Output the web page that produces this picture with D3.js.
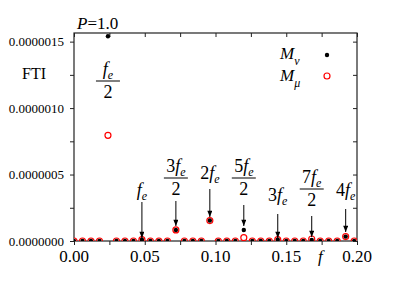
<!DOCTYPE html>
<html>
<head>
<meta charset="utf-8">
<script src="https://cdn.jsdelivr.net/npm/d3@7"></script>
<style>
  body { margin: 0; background: #fff; }
  text { font-family: "Liberation Serif", "Times New Roman", serif; fill: #000; }
</style>
</head>
<body>
<script>
var width = 415, height = 290;
var margin = {top: 33, right: 58, bottom: 49, left: 74}; // plot box 74..357, 33..241

// frequencies of the spectrum points
var freq = [0.000, 0.006, 0.012, 0.018, 0.024, 0.030, 0.036, 0.042, 0.048, 0.054,
            0.060, 0.066, 0.072, 0.078, 0.084, 0.090, 0.096, 0.102, 0.108, 0.114,
            0.120, 0.126, 0.132, 0.138, 0.144, 0.150, 0.156, 0.162, 0.168, 0.174,
            0.180, 0.186, 0.192, 0.198];
// FTI values (x 1e-6)
var mNu = [0, 0, 0, 0, 1.54, 0, 0, 0, 0.010, 0,
           0, 0, 0.083, 0, 0, 0, 0.154, 0, 0, 0,
           0.083, 0, 0, 0, 0.010, 0, 0, 0, 0.008, 0,
           0, 0, 0.033, 0];
var mMu = [0, 0, 0, 0, 0.795, 0, 0, 0, 0.010, 0,
           0, 0, 0.083, 0, 0, 0, 0.154, 0, 0, 0,
           0.025, 0, 0, 0, 0.010, 0, 0, 0, 0.015, 0,
           0, 0, 0.033, 0];

var xTicks = [0, 0.05, 0.10, 0.15, 0.20];
var yTicks = [0, 0.5e-6, 1.0e-6, 1.5e-6];
var yTickLabels = ["0.0000000", "0.0000005", "0.0000010", "0.0000015"];

var svg = d3.select("body").append("svg")
    .attr("width", width)
    .attr("height", height);

var x = d3.scaleLinear().domain([0, 0.2]).range([margin.left, width - margin.right]);
var y = d3.scaleLinear().domain([0, 1.565e-6]).range([height - margin.bottom, margin.top]);

var x0 = x.range()[0], x1 = x.range()[1], y0 = y.range()[0], y1 = y.range()[1];

svg.append("defs").append("clipPath").attr("id", "plotclip")
  .append("rect")
  .attr("x", x0).attr("y", y1)
  .attr("width", x1 - x0).attr("height", y0 - y1);

svg.select("defs").append("marker")
  .attr("id", "arrow")
  .attr("viewBox", "0 -4 10 8")
  .attr("refX", 10).attr("refY", 0)
  .attr("markerUnits", "userSpaceOnUse")
  .attr("markerWidth", 7).attr("markerHeight", 5)
  .attr("orient", "auto")
  .append("path")
  .attr("d", "M0,-4L10,0L0,4Z")
  .attr("fill", "#000");

// ticks: majors and minors
var xMinor = d3.range(0, 0.2001, 0.025);
var yMinor = d3.range(0, 1.5001e-6, 0.25e-6);

var bottomAxis = d3.axisBottom(x).tickValues(xMinor).tickSize(4).tickPadding(4)
  .tickFormat(function(d) { return ""; });
var gb = svg.append("g").attr("transform", "translate(0," + y0 + ")").call(bottomAxis);
gb.select(".domain").remove();

var leftAxis = d3.axisLeft(y).tickValues(yMinor).tickSize(4)
  .tickFormat(function(d) { return ""; });
var gl = svg.append("g").attr("transform", "translate(" + x0 + ",0)").call(leftAxis);
gl.select(".domain").remove();

var topAxis = d3.axisBottom(x).tickValues(xMinor).tickSize(4).tickFormat("");
var gt = svg.append("g").attr("transform", "translate(0," + y1 + ")").call(topAxis);
gt.select(".domain").remove();

var rightAxis = d3.axisLeft(y).tickValues(yMinor).tickSize(4).tickFormat("");
var gr = svg.append("g").attr("transform", "translate(" + x1 + ",0)").call(rightAxis);
gr.select(".domain").remove();

svg.selectAll(".tick line").attr("stroke", "#222").attr("stroke-width", 1);

// frame
svg.append("rect")
  .attr("x", x0).attr("y", y1)
  .attr("width", x1 - x0).attr("height", y0 - y1)
  .attr("fill", "none").attr("stroke", "#222").attr("stroke-width", 1.2);

// tick labels
svg.selectAll(".xlab").data(xTicks).enter().append("text")
  .attr("class", "xlab")
  .attr("x", function(d) { return x(d); })
  .attr("y", y0 + 21)
  .attr("text-anchor", "middle")
  .attr("font-size", 17)
  .text(function(d) { return d.toFixed(2); });

svg.selectAll(".ylab").data(yTicks).enter().append("text")
  .attr("class", "ylab")
  .attr("x", x0 - 10)
  .attr("y", function(d) { return y(d) + 4.5; })
  .attr("text-anchor", "end")
  .attr("font-size", 13)
  .text(function(d, i) { return yTickLabels[i]; });

// axis titles
svg.append("text").attr("x", 22).attr("y", 79).attr("font-size", 16).text("FTI");
svg.append("text").attr("x", 318).attr("y", y0 + 21).attr("font-size", 17)
  .attr("font-style", "italic").text("f");

var pt = svg.append("text").attr("x", 77).attr("y", 29).attr("font-size", 17);
pt.append("tspan").attr("font-style", "italic").text("P");
pt.append("tspan").text("=1.0");

// points
var pts = svg.append("g").attr("clip-path", "url(#plotclip)");
pts.selectAll(".mu").data(freq).enter().append("circle")
  .attr("class", "mu")
  .attr("cx", function(d) { return x(d); })
  .attr("cy", function(d, i) { return y(mMu[i] * 1e-6); })
  .attr("r", 3)
  .attr("fill", "#fff")
  .attr("stroke", "#f00")
  .attr("stroke-width", 1.2);
pts.selectAll(".nu").data(freq).enter().append("circle")
  .attr("class", "nu")
  .attr("cx", function(d) { return x(d); })
  .attr("cy", function(d, i) { return y(mNu[i] * 1e-6); })
  .attr("r", 2.2)
  .attr("fill", "#000");

// legend
function subLabel(g, px, py, main, sub) {
  var t = g.append("text").attr("x", px).attr("y", py).attr("font-size", 17)
    .attr("font-style", "italic");
  t.append("tspan").text(main);
  t.append("tspan").attr("font-size", 12).attr("dy", 6).text(sub);
  return t;
}
subLabel(svg, 280, 59, "M", "\u03bd");
subLabel(svg, 280, 81, "M", "\u03bc");
svg.append("circle").attr("cx", 327).attr("cy", 55).attr("r", 2.2).attr("fill", "#000");
svg.append("circle").attr("cx", 327).attr("cy", 76).attr("r", 3)
  .attr("fill", "#fff").attr("stroke", "#f00").attr("stroke-width", 1.2);

// harmonic annotations: k = index into freq
var notes = [
  {k: 4,  num: "", den: true, ty: 75, ay0: null, ay1: null},
  {k: 8,  num: "", den: false, ty: 196, ay0: 202, ay1: 238},
  {k: 12, num: "3", den: true, ty: 172, ay0: 201, ay1: 226},
  {k: 16, num: "2", den: false, ty: 179, ay0: 189, ay1: 217},
  {k: 20, num: "5", den: true, ty: 172, ay0: 205, ay1: 226},
  {k: 24, num: "3", den: false, ty: 201, ay0: 214, ay1: 238},
  {k: 28, num: "7", den: true, ty: 183, ay0: 216, ay1: 237},
  {k: 32, num: "4", den: false, ty: 196, ay0: 209, ay1: 232}
];

notes.forEach(function(n) {
  var cx = x(freq[n.k]);
  var t = svg.append("text").attr("x", cx).attr("y", n.ty)
    .attr("text-anchor", "middle").attr("font-size", 18);
  if (n.num) t.append("tspan").text(n.num);
  t.append("tspan").attr("font-style", "italic").text("f");
  t.append("tspan").attr("font-style", "italic").attr("font-size", 12).attr("dy", 4).text("e");
  if (n.den) {
    svg.append("line")
      .attr("x1", cx - 12).attr("x2", cx + 12)
      .attr("y1", n.ty + 6).attr("y2", n.ty + 6)
      .attr("stroke", "#000").attr("stroke-width", 1);
    svg.append("text").attr("x", cx).attr("y", n.ty + 23)
      .attr("text-anchor", "middle").attr("font-size", 18).text("2");
  }
  if (n.ay0 != null) {
    svg.append("line")
      .attr("x1", cx).attr("x2", cx)
      .attr("y1", n.ay0).attr("y2", n.ay1)
      .attr("stroke", "#000").attr("stroke-width", 1)
      .attr("marker-end", "url(#arrow)");
  }
});
</script>
</body>
</html>
